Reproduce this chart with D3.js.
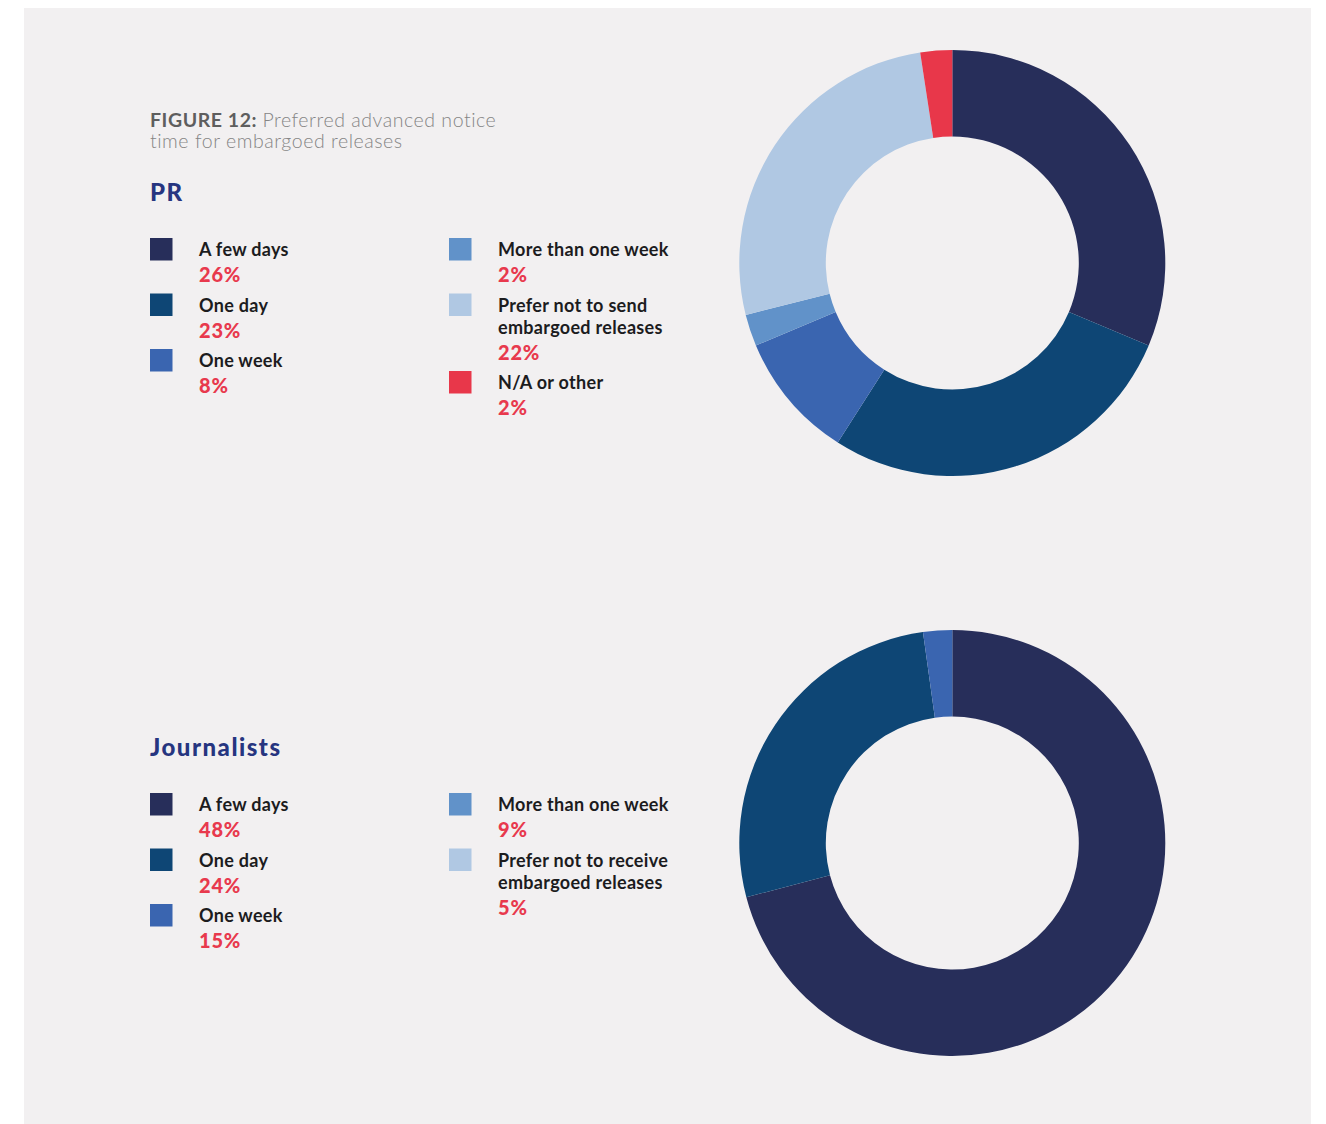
<!DOCTYPE html>
<html>
<head>
<script src="https://d3js.org/d3.v7.min.js"></script>
<style>
  body { margin: 0; background: #ffffff; }
  text { font-family: Lato, "Open Sans", sans-serif; }
</style>
</head>
<body>
<div id="my_dataviz"></div>
<script>
// categories, colours and legend values
var categories = ["A few days", "One day", "One week", "More than one week", "Prefer not to send", "N/A or other"];
var colors = ["#272e5a", "#0e4675", "#3a65b0", "#6192c9", "#b0c8e3", "#e8374a"];

// PR: legend percentages (also the slice values)
var prLabels = [["A few days"], ["One day"], ["One week"], ["More than one week"], ["Prefer not to send", "embargoed releases"], ["N/A or other"]];
var prValues = [26, 23, 8, 2, 22, 2];

// Journalists: legend percentages
var jLabels = [["A few days"], ["One day"], ["One week"], ["More than one week"], ["Prefer not to receive", "embargoed releases"]];
var jValues = [48, 24, 15, 9, 5];
// Journalists donut as drawn in the picture (shares)
var jDonutCats = ["A few days", "One day", "One week"];
var jDonutValues = [70.9, 26.9, 2.2];

var width = 1326, height = 1124;

var svg = d3.select("#my_dataviz").append("svg")
    .attr("width", width)
    .attr("height", height);

// panel background
svg.append("rect")
    .attr("x", 24).attr("y", 8)
    .attr("width", 1287).attr("height", 1124)
    .attr("fill", "#f2f0f1");

// title
var title = svg.append("text").attr("x", 150).attr("y", 127)
    .style("font-size", "19.5px").style("letter-spacing", "0.55px");
title.append("tspan").attr("font-weight", 700).attr("fill", "#5e5e5e").text("FIGURE 12: ");
title.append("tspan").attr("font-weight", 300).attr("fill", "#858585").text("Preferred advanced notice");
svg.append("text").attr("x", 150).attr("y", 148)
    .style("font-size", "19.5px").style("letter-spacing", "0.55px")
    .attr("font-weight", 300).attr("fill", "#858585")
    .text("time for embargoed releases");

var color = d3.scaleOrdinal().domain(categories).range(colors);

var pie = d3.pie().sort(null).value(d => d.value);
var arc = d3.arc().innerRadius(126.5).outerRadius(213);

function drawDonut(cats, values, cx, cy) {
  var data = cats.map((c, i) => ({cat: c, value: values[i]}));
  svg.append("g")
      .attr("transform", "translate(" + cx + "," + cy + ")")
    .selectAll("path")
    .data(pie(data))
    .join("path")
      .attr("d", arc)
      .attr("fill", d => color(d.data.cat));
}

function drawLegend(heading, labels, values, top) {
  svg.append("text")
      .attr("x", 150).attr("y", top - 37)
      .attr("fill", "#263580")
      .attr("font-weight", 900)
      .style("font-size", "24px")
      .style("letter-spacing", "1.5px")
      .text(heading);

  // two columns: first three items left, rest right
  var cols = [{x: 150, items: [0, 1, 2]}, {x: 449, items: d3.range(3, labels.length)}];
  cols.forEach(function(col) {
    var y = top;
    col.items.forEach(function(i) {
      svg.append("rect")
          .attr("x", col.x).attr("y", y)
          .attr("width", 22.5).attr("height", 22.5)
          .attr("fill", colors[i]);
      var base = y + 18;
      labels[i].forEach(function(line, k) {
        svg.append("text")
            .attr("x", col.x + 49).attr("y", base + k * 22)
            .attr("fill", "#1c1c1e")
            .attr("font-weight", 700)
            .style("font-size", "18px")
            .style("letter-spacing", "0.3px")
            .text(line);
      });
      var pctY = base + (labels[i].length - 1) * 22 + 26;
      svg.append("text")
          .attr("x", col.x + 49).attr("y", pctY)
          .attr("fill", "#e8394d")
          .attr("font-weight", 900)
          .style("font-size", "20px")
          .style("letter-spacing", "0.8px")
          .text(values[i] + "%");
      y = pctY + 11.5;
    });
  });
}

drawLegend("PR", prLabels, prValues, 238);
drawLegend("Journalists", jLabels, jValues, 793);

drawDonut(categories, prValues, 952.3, 263);
drawDonut(jDonutCats, jDonutValues, 952.3, 843);
</script>
</body>
</html>
